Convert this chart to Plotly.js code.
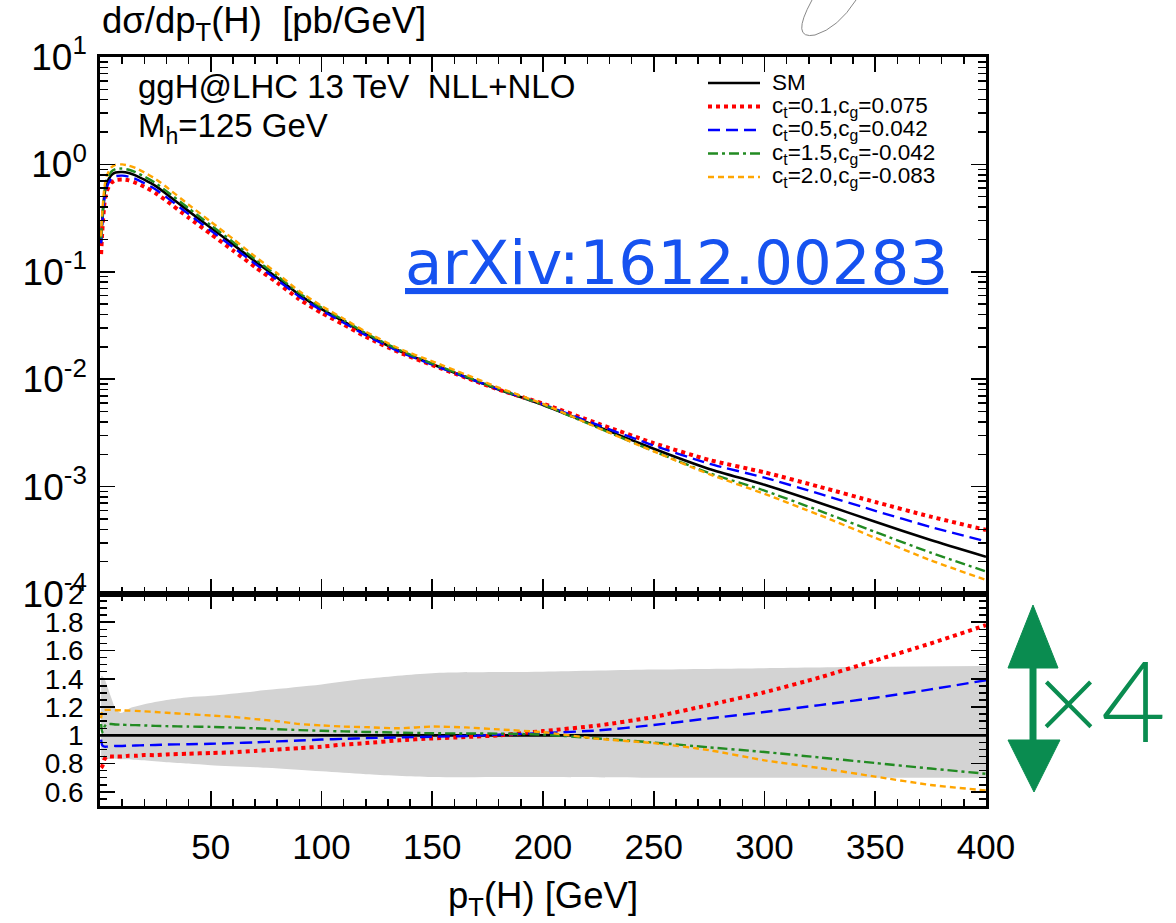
<!DOCTYPE html>
<html>
<head>
<meta charset="utf-8">
<script src="https://cdn.plot.ly/plotly-3.0.1.min.js"></script>
<style>html,body{margin:0;padding:0;background:#fff;}#chart{width:1176px;height:923px;}</style>
</head>
<body>
<div id="chart"></div>
<script>
// pT grid (GeV)
const pT = [0.5, 1, 2, 3, 5, 7, 10, 13, 16, 20, 25, 30, 40, 50, 60, 70, 80, 90, 100, 110, 120, 135, 150, 165, 180, 200, 225, 250, 275, 300, 325, 350, 375, 400];

// dsigma/dpT [pb/GeV]
const smMain = [0.19, 0.30, 0.52, 0.66, 0.79, 0.84, 0.85, 0.83, 0.79, 0.72, 0.63, 0.53, 0.367, 0.257, 0.18, 0.125, 0.088, 0.061, 0.045, 0.0345, 0.0262, 0.0184, 0.0138, 0.0105, 0.0080, 0.00575, 0.0036, 0.00225, 0.00146, 0.00104, 0.000705, 0.00047, 0.000318, 0.000222];
const redMain = [0.146, 0.234, 0.432, 0.561, 0.672, 0.714, 0.723, 0.710, 0.675, 0.619, 0.542, 0.458, 0.319, 0.225, 0.158, 0.111, 0.0792, 0.0555, 0.0414, 0.0323, 0.0248, 0.0178, 0.0135, 0.01037, 0.0080, 0.00592, 0.00385, 0.00254, 0.00177, 0.001357, 0.000994, 0.000719, 0.000525, 0.000395];
const blueMain = [0.184, 0.279, 0.478, 0.607, 0.731, 0.777, 0.786, 0.769, 0.733, 0.670, 0.587, 0.496, 0.344, 0.242, 0.170, 0.119, 0.0842, 0.0587, 0.0437, 0.0336, 0.0257, 0.0181, 0.01366, 0.01045, 0.00804, 0.00584, 0.00373, 0.00241, 0.001635, 0.001212, 0.000856, 0.000595, 0.000421, 0.000309];
const greenMain = [0.205, 0.306, 0.551, 0.713, 0.853, 0.905, 0.914, 0.891, 0.847, 0.770, 0.672, 0.564, 0.390, 0.272, 0.190, 0.131, 0.0918, 0.0633, 0.0464, 0.0355, 0.0268, 0.01875, 0.0140, 0.01064, 0.0081, 0.00578, 0.00352, 0.002135, 0.001336, 0.000917, 0.000594, 0.000378, 0.000243, 0.000162];
const orangeMain = [0.213, 0.351, 0.614, 0.779, 0.932, 0.990, 1.000, 0.975, 0.927, 0.842, 0.734, 0.615, 0.422, 0.293, 0.203, 0.139, 0.0968, 0.0659, 0.0482, 0.0366, 0.0277, 0.0193, 0.01466, 0.01109, 0.00834, 0.00588, 0.00351, 0.002126, 0.001307, 0.000856, 0.000541, 0.000333, 0.000206, 0.000135];

// ratios to SM
const smRatioX = [0, 400];
const smRatio = [1, 1];
const redRatio = [0.77, 0.78, 0.83, 0.85, 0.85, 0.85, 0.85, 0.855, 0.855, 0.86, 0.86, 0.865, 0.87, 0.875, 0.88, 0.89, 0.90, 0.91, 0.92, 0.935, 0.945, 0.965, 0.978, 0.988, 1.0, 1.03, 1.07, 1.13, 1.215, 1.305, 1.41, 1.53, 1.65, 1.78];
const blueRatio = [0.97, 0.93, 0.92, 0.92, 0.925, 0.925, 0.925, 0.927, 0.928, 0.93, 0.932, 0.935, 0.937, 0.94, 0.945, 0.95, 0.957, 0.963, 0.97, 0.975, 0.98, 0.985, 0.99, 0.995, 1.005, 1.016, 1.035, 1.073, 1.12, 1.165, 1.214, 1.266, 1.325, 1.39];
const greenRatio = [1.08, 1.02, 1.06, 1.08, 1.08, 1.077, 1.075, 1.073, 1.072, 1.07, 1.067, 1.065, 1.062, 1.06, 1.055, 1.05, 1.043, 1.037, 1.032, 1.028, 1.024, 1.019, 1.015, 1.013, 1.012, 1.005, 0.978, 0.949, 0.915, 0.882, 0.843, 0.804, 0.765, 0.728];
const orangeRatio = [1.12, 1.17, 1.18, 1.18, 1.18, 1.178, 1.177, 1.175, 1.173, 1.17, 1.165, 1.16, 1.15, 1.14, 1.13, 1.115, 1.10, 1.08, 1.07, 1.062, 1.058, 1.05, 1.062, 1.056, 1.042, 1.022, 0.975, 0.945, 0.895, 0.823, 0.768, 0.708, 0.649, 0.61];

// uncertainty band (ratio)
const bandPt = [0.5, 1, 2, 3, 5, 7, 9, 10, 12, 15, 20, 30, 40, 50, 75, 100, 120, 150, 200, 250, 300, 350, 400];
const bandUpper = [1.42, 1.42, 1.40, 1.36, 1.27, 1.19, 1.16, 1.16, 1.18, 1.20, 1.22, 1.25, 1.27, 1.28, 1.32, 1.36, 1.40, 1.44, 1.45, 1.465, 1.475, 1.485, 1.49];
const bandLower = [0.83, 0.83, 0.83, 0.83, 0.835, 0.835, 0.83, 0.83, 0.83, 0.828, 0.823, 0.81, 0.80, 0.788, 0.77, 0.745, 0.725, 0.705, 0.705, 0.70, 0.70, 0.70, 0.70];

const seriesNames = ['SM', 'c<sub>t</sub>=0.1,c<sub>g</sub>=0.075', 'c<sub>t</sub>=0.5,c<sub>g</sub>=0.042', 'c<sub>t</sub>=1.5,c<sub>g</sub>=-0.042', 'c<sub>t</sub>=2.0,c<sub>g</sub>=-0.083'];
const xTickVals = [50, 100, 150, 200, 250, 300, 350, 400];
const yMainTickVals = [1e-4, 1e-3, 1e-2, 1e-1, 1, 10];
const yMainTickText = ['10<sup>-4</sup>', '10<sup>-3</sup>', '10<sup>-2</sup>', '10<sup>-1</sup>', '10<sup>0</sup>', '10<sup>1</sup>'];

const styles = [
  {color: '#000000', width: 2.6, dash: 'solid'},
  {color: '#ff0000', width: 4, dash: '4px,4px'},
  {color: '#0000ff', width: 2.4, dash: '12px,6px'},
  {color: '#228b22', width: 2.4, dash: '10px,4px,3px,4px'},
  {color: '#ffa500', width: 2.4, dash: '6px,4px'}
];
const mainY = [smMain, redMain, blueMain, greenMain, orangeMain];
const ratioY = [redRatio, blueRatio, greenRatio, orangeRatio];

const traces = [];
// band
traces.push({x: bandPt, y: bandLower, xaxis: 'x', yaxis: 'y2', mode: 'lines', line: {width: 0, color: '#d3d3d3', shape: 'spline', smoothing: 0.8}, showlegend: false, hoverinfo: 'skip'});
traces.push({x: bandPt, y: bandUpper, xaxis: 'x', yaxis: 'y2', mode: 'lines', line: {width: 0, color: '#d3d3d3', shape: 'spline', smoothing: 0.8}, fill: 'tonexty', fillcolor: '#d3d3d3', showlegend: false, hoverinfo: 'skip'});
// ratio lines
traces.push({x: smRatioX, y: smRatio, xaxis: 'x', yaxis: 'y2', mode: 'lines', line: styles[0], showlegend: false});
ratioY.forEach((r, i) => {
  traces.push({x: pT, y: r, xaxis: 'x', yaxis: 'y2', mode: 'lines', line: Object.assign({shape: 'spline', smoothing: 0.6}, styles[i + 1]), showlegend: false});
});
// main lines
mainY.forEach((v, i) => {
  traces.push({x: pT, y: v, xaxis: 'x2', yaxis: 'y', mode: 'lines', name: seriesNames[i], line: Object.assign({shape: 'spline', smoothing: 0.6}, styles[i]), showlegend: false});
});

const W = 886, H = 749, L = 100, T = 57;
const px = v => (v - L) / W;
const py = v => (T + H - v) / H;

const axisCommon = {
  showline: true, linecolor: '#000', linewidth: 2.8, mirror: 'ticks',
  ticks: 'inside', ticklen: 15, tickwidth: 1.6, tickcolor: '#000',
  showgrid: false, zeroline: false,
  tickfont: {size: 35, color: '#000'}
};

// legend drawn as keys + labels
const legendRow0 = 83, legendRowGap = 23.5;
const annotations = [
  {xref: 'paper', yref: 'paper', x: px(100), y: py(23), xanchor: 'left', yanchor: 'middle', showarrow: false,
   text: 'dσ/dp<sub>T</sub>(H)  [pb/GeV]', font: {size: 36.5}},
  {xref: 'paper', yref: 'paper', x: px(136), y: py(86), xanchor: 'left', yanchor: 'middle', showarrow: false,
   text: 'ggH@LHC 13 TeV  NLL+NLO', font: {size: 33}},
  {xref: 'paper', yref: 'paper', x: px(136), y: py(128), xanchor: 'left', yanchor: 'middle', showarrow: false,
   text: 'M<sub>h</sub>=125 GeV', font: {size: 33}},
  {xref: 'paper', yref: 'paper', x: px(403), y: py(262), xanchor: 'left', yanchor: 'middle', showarrow: false,
   text: '<span style="text-decoration:underline">arXiv:1612.00283</span>', font: {size: 61, color: '#1652f0', family: '"DejaVu Sans", sans-serif'}},
  {xref: 'paper', yref: 'paper', x: px(1034), y: py(698), xanchor: 'left', yanchor: 'middle', showarrow: false,
   text: '×4', font: {size: 112, color: '#0a8c50', family: 'Lato, "Open Sans", sans-serif', weight: 300}}
];
const shapes = [
  {type: 'path', xref: 'paper', yref: 'paper', fillcolor: '#0a8c50', line: {color: '#0a8c50', width: 1},
   path: `M ${px(1033)},${py(605)} L ${px(1058)},${py(668)} L ${px(1036)},${py(668)} L ${px(1036)},${py(740)} L ${px(1060)},${py(740)} L ${px(1034)},${py(792)} L ${px(1008)},${py(740)} L ${px(1030)},${py(740)} L ${px(1030)},${py(668)} L ${px(1008)},${py(668)} Z`},
  {type: 'path', xref: 'paper', yref: 'paper', line: {color: '#888', width: 1},
   path: `M ${px(812)},${py(0)} Q ${px(790)},${py(40)} ${px(815)},${py(35)} Q ${px(838)},${py(28)} ${px(856)},${py(0)}`}
];
seriesNames.forEach((name, i) => {
  const yc = legendRow0 + i * legendRowGap;
  shapes.push({type: 'line', xref: 'paper', yref: 'paper', x0: px(708), x1: px(760), y0: py(yc), y1: py(yc),
    line: {color: styles[i].color, width: styles[i].width, dash: styles[i].dash}});
  annotations.push({xref: 'paper', yref: 'paper', x: px(770), y: py(yc), xanchor: 'left', yanchor: 'middle', showarrow: false,
    text: name, font: {size: 22.5}});
});

const layout = {
  width: 1176, height: 923,
  margin: {l: L, r: 1176 - L - W, t: T, b: 923 - T - H},
  paper_bgcolor: '#fff', plot_bgcolor: '#fff',
  font: {family: '"Liberation Sans", Arial, sans-serif', color: '#000'},
  showlegend: false,
  xaxis: Object.assign({}, axisCommon, {
    anchor: 'y2', range: [0, 400], tickvals: xTickVals, ticklabelstandoff: 8,
    minor: {ticks: 'inside', ticklen: 7, tickwidth: 1.5, tickcolor: '#000', dtick: 10, tick0: 0},
    title: {text: 'p<sub>T</sub>(H) [GeV]', font: {size: 36.5}, standoff: 18}
  }),
  xaxis2: Object.assign({}, axisCommon, {
    anchor: 'y', matches: 'x', range: [0, 400], tickvals: xTickVals, showticklabels: false,
    minor: {ticks: 'inside', ticklen: 7, tickwidth: 1.5, tickcolor: '#000', dtick: 10, tick0: 0}
  }),
  yaxis: Object.assign({}, axisCommon, {
    anchor: 'x2', domain: [py(594), 1], type: 'log', range: [-4, 1],
    tickvals: yMainTickVals, ticktext: yMainTickText, ticklabelstandoff: 3,
    tickfont: {size: 37, color: '#000'},
    minor: {ticks: 'inside', ticklen: 8, tickwidth: 1.5, tickcolor: '#000', dtick: 'D1'}
  }),
  yaxis2: Object.assign({}, axisCommon, {
    anchor: 'x', domain: [0, py(594)], range: [0.5, 2], dtick: 0.2, tick0: 0, ticklabelstandoff: 8,
    tickfont: {size: 28, color: '#000'},
    minor: {ticks: 'inside', ticklen: 7, tickwidth: 1.5, tickcolor: '#000', dtick: 0.05, tick0: 0}
  }),
  annotations: annotations,
  shapes: shapes
};

Plotly.newPlot('chart', traces, layout, {displayModeBar: false, staticPlot: true});
</script>
</body>
</html>
